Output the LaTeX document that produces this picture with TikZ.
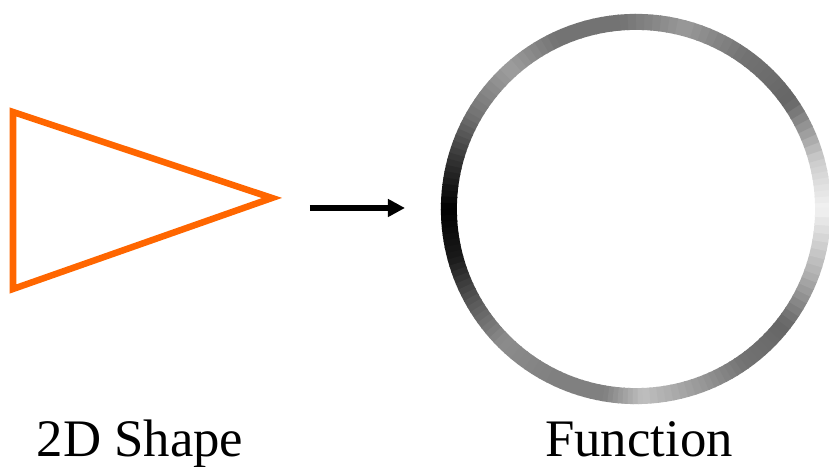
\documentclass[tikz,border=0pt]{standalone}
\usepackage{fontspec}
\setmainfont{Liberation Serif}
\usetikzlibrary{arrows.meta}
\definecolor{shapeorange}{HTML}{FF6600}
\tikzset{
	shapeline/.style={draw=shapeorange,line width=0.065cm,miter limit=20},
	ringseg/.style={line width=0.16cm},
	caption/.style={anchor=base,font=\fontsize{15}{18}\selectfont},
}
\begin{document}
\begin{tikzpicture}[x=0.01cm,y=0.01cm,>={Triangle[length=0.17cm,width=0.17cm]},line join=miter]
		\useasboundingbox (0,0) rectangle (829,467);
		% 2D shape
		\draw[shapeline] (13,355)--(272,269)--(13,178)--cycle;
		% map
		\coordinate (arrS) at (310,259);
		\coordinate (arrE) at (405,259);
		\draw[->,line width=0.055cm] (arrS)--(arrE);
		% function on the circle
		\begin{scope}[shift={(636,258)}]
		\foreach \a/\ga/\b/\gb in {0/95/15/80,15/80/35/40,35/40/55/45,55/45/75/60,75/60/95/45,95/45/115/45,115/45/132/62,132/62/150/45,150/45/165/20,165/20/180/0,180/0/195/10,195/10/210/35,210/35/225/55,225/55/245/50,245/50/260/50,260/50/272/75,272/75/290/60,290/60/305/45,305/45/322/40,322/40/340/70,340/70/360/95}{
			\foreach \k in {0,...,7}{
				\pgfmathsetmacro\sa{\a+(\b-\a)*\k/8}
				\pgfmathsetmacro\sb{\a+(\b-\a)*(\k+1)/8+0.4}
				\pgfmathsetmacro\gg{\ga+(\gb-\ga)*(\k+0.5)/8}
				\draw[ringseg,color=white!\gg!black] (\sa:1.87cm) arc[start angle=\sa,end angle=\sb,radius=1.87cm];
			}
		}
		\end{scope}
		% labels
		\node[caption] (shapelbl) at (140,10) {2D Shape};
		\node[caption] (funclbl) at (639,10) {Function};
\end{tikzpicture}
\end{document}
